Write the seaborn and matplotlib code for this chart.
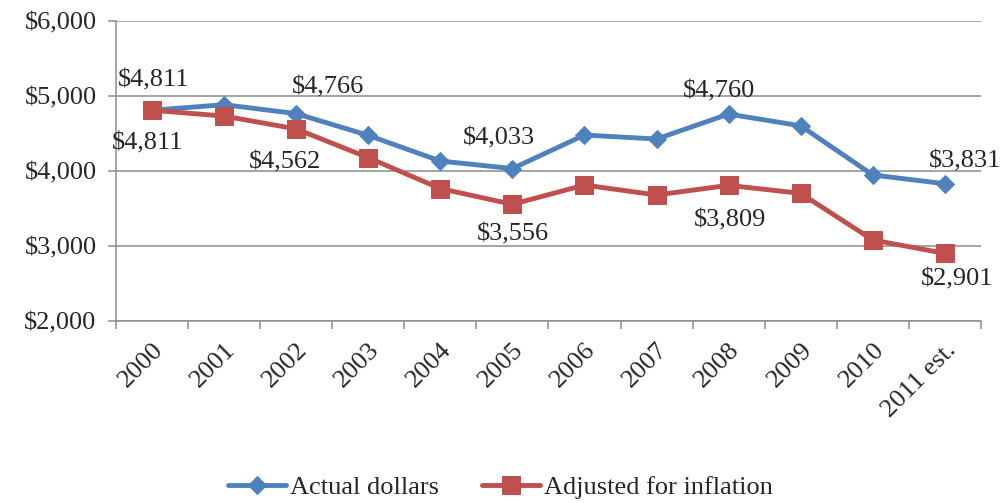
import numpy as np
import pandas as pd
import seaborn as sns
import matplotlib.pyplot as plt
from matplotlib.ticker import FuncFormatter, FixedLocator

# data
years = ['2000', '2001', '2002', '2003', '2004', '2005', '2006', '2007', '2008', '2009', '2010', '2011 est.']
actual = [4811, 4885, 4766, 4476, 4133, 4033, 4480, 4427, 4760, 4603, 3947, 3831]
adjusted = [4811, 4733, 4562, 4178, 3766, 3556, 3813, 3680, 3809, 3702, 3080, 2901]
labeled = [0, 2, 5, 8, 11]

blue = '#4F81BD'
red = '#C0504D'

sns.set_style('white')
plt.rcParams['font.family'] = ['Liberation Serif', 'DejaVu Serif']
plt.rcParams['font.size'] = 19

fig, ax = plt.subplots(figsize=(10.05, 5.03), dpi=100)
fig.subplots_adjust(left=0.1154, right=0.976, top=0.958, bottom=0.362)

x = np.arange(len(years))
sns.lineplot(x=x, y=actual, ax=ax, color=blue, lw=3.5, marker='D', ms=9.5,
             mec=blue, label='Actual dollars')
sns.lineplot(x=x, y=adjusted, ax=ax, color=red, lw=3.5, marker='s', ms=13,
             mec=red, label='Adjusted for inflation')

# data labels
blue_off = {0: (1.5, 21.6), 2: (23, 18.7), 5: (-10, 21.6), 8: (-7, 16.6), 11: (14.4, 15.8)}
red_off = {0: (-3, -23.8), 2: (-8, -23.8), 5: (0.7, -21.6), 8: (1.4, -25), 11: (8.6, -18.7)}
for i in labeled:
    ax.annotate(f'${actual[i]:,.0f}', (x[i], actual[i]), xytext=blue_off[i],
                textcoords='offset points', ha='center', va='center')
    ax.annotate(f'${adjusted[i]:,.0f}', (x[i], adjusted[i]), xytext=red_off[i],
                textcoords='offset points', ha='center', va='center')

ax.set_xlim(-0.5, len(years) - 0.5)
ax.set_ylim(2000, 6000)
ax.set_yticks([2000, 3000, 4000, 5000, 6000])
ax.yaxis.set_major_formatter(FuncFormatter(lambda v, p: f'${v:,.0f}'))
ax.yaxis.grid(True, color='#8C8C8C', lw=1.1)
ax.set_axisbelow(True)

ax.set_xticks(x)
ax.set_xticklabels(years, rotation=45, ha='right', va='top', rotation_mode='anchor')
ax.xaxis.set_minor_locator(FixedLocator(np.arange(-0.5, len(years), 1)))
ax.tick_params(axis='x', which='major', length=0, pad=13)
ax.tick_params(axis='x', which='minor', length=6, width=1.1, color='#8C8C8C', direction='out', bottom=True)
ax.tick_params(axis='y', length=6, width=1.1, color='#8C8C8C', direction='out', left=True, pad=8)

for s in ['top', 'right']:
    ax.spines[s].set_visible(False)
for s in ['left', 'bottom']:
    ax.spines[s].set_color('#8C8C8C')
    ax.spines[s].set_linewidth(1.1)

ax.get_legend().remove()
h, l = ax.get_legend_handles_labels()
fig.legend(h, l, loc='center', bbox_to_anchor=(0.498, 1 - 487 / 503), ncol=2, frameon=False,
           handlelength=2.2, handletextpad=0.15, columnspacing=1.6, borderpad=0.1)

fig.savefig('out.png', dpi=100)
